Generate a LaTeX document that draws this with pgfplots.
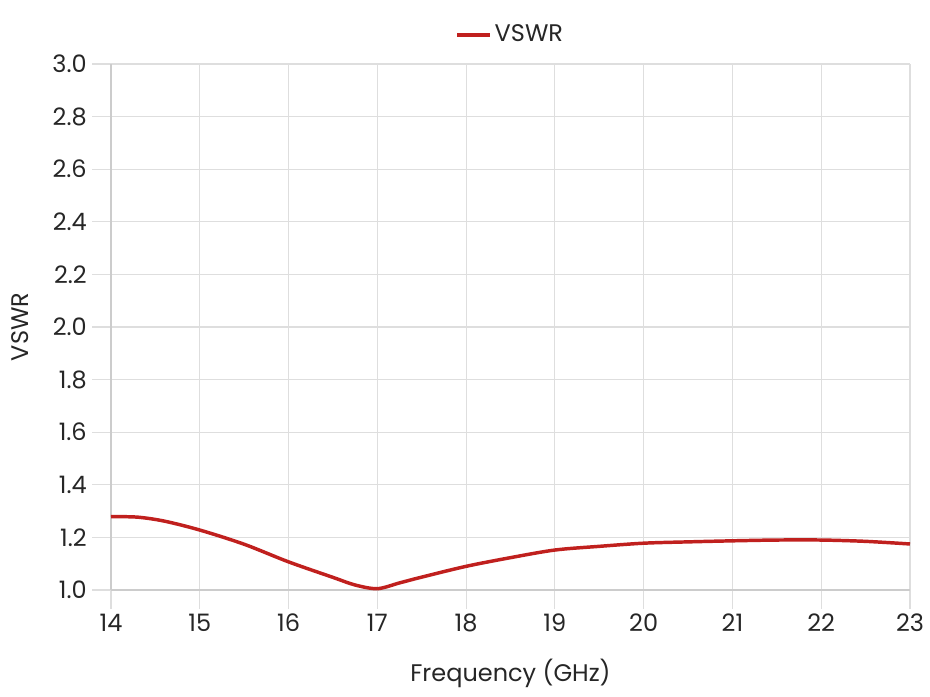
\documentclass[border=0pt]{standalone}
\usepackage{pgfplots}
\pgfplotsset{compat=1.18}
\usepackage{fontspec}
\setmainfont{Poppins}
\definecolor{vswr}{HTML}{C0201E}
\definecolor{gridc}{HTML}{DEDEDE}
\definecolor{axc}{HTML}{CCCCCC}
\begin{document}
\fontsize{18}{21}\selectfont
\begin{tikzpicture}
\useasboundingbox (-83.25pt,-79.5pt) rectangle (614.25pt,442.5pt);
\begin{axis}[
  at={(0,0)}, anchor=south west,
  scale only axis, width=599.25pt, height=394.5pt,
  xmin=14, xmax=23, ymin=1.0, ymax=3.0,
  xtick={14,...,23}, ytick={1.0,1.2,...,3.0},
  yticklabel style={/pgf/number format/fixed, /pgf/number format/fixed zerofill, /pgf/number format/precision=1},
  /pgf/number format/assume math mode=true,
  grid=major, major grid style={gridc, line width=0.9pt},
  axis line style={axc, line width=1pt},
  axis lines*=left,
  tick style={gridc, line width=0.9pt},
  tick align=outside, major tick length=14pt,
  xticklabel style={yshift=2pt},
  yticklabel style={xshift=2pt},
  tick label style={text=black!85, font=\fontsize{18}{21}\selectfont},
  label style={font=\fontsize{18}{21}\selectfont},
  xlabel={Frequency (GHz)}, ylabel={VSWR},
  xlabel style={yshift=-8pt, text=black!85},
  ylabel style={yshift=6pt, text=black!85},
  legend style={at={(0.5,1)}, anchor=south, yshift=10pt, draw=none, fill=none, text=black!85, font=\fontsize{18}{21}\selectfont},
  legend image code/.code={\draw[#1, line width=2.6pt] (0pt,0pt) -- (25pt,0pt);},
  clip=false,
]
\addplot[vswr, line width=2.6pt, smooth, tension=0.5] coordinates {
(14.0,1.279) (14.3,1.277) (14.6,1.262) (15.0,1.228) (15.5,1.174) (16.0,1.107)
(16.5,1.048) (16.75,1.019) (17.0,1.005) (17.25,1.027) (17.5,1.049) (18.0,1.090)
(18.5,1.123) (19.0,1.152) (19.5,1.166) (20.0,1.178) (20.5,1.183) (21.0,1.187)
(21.5,1.190) (22.0,1.190) (22.5,1.185) (23.0,1.175)
};
\addlegendentry{VSWR}
\end{axis}
\end{tikzpicture}
\end{document}
